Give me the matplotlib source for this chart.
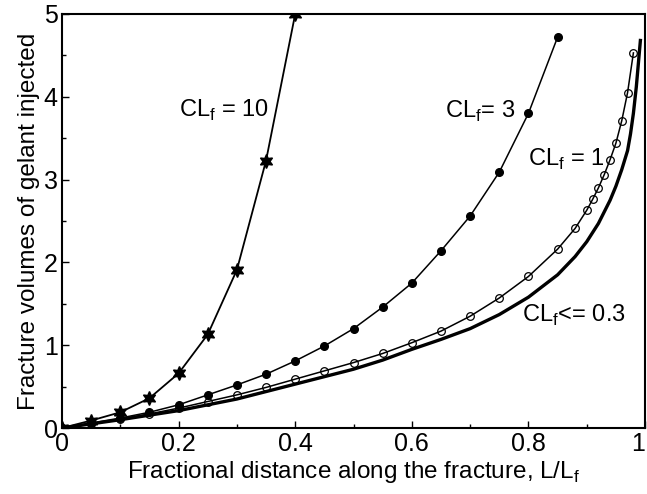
import matplotlib
matplotlib.use("Agg")
import matplotlib.pyplot as plt
from matplotlib.ticker import MultipleLocator, FixedFormatter, FixedLocator

plt.rcParams['font.family'] = ['Liberation Sans', 'DejaVu Sans']
plt.rcParams['mathtext.fontset'] = 'custom'
plt.rcParams['mathtext.rm'] = 'Liberation Sans'

# CLf = 10 (stars)
x10 = [0, 0.05, 0.1, 0.15, 0.2, 0.25, 0.3, 0.35, 0.4]
y10 = [0, 0.09, 0.19, 0.36, 0.66, 1.13, 1.91, 3.23, 5.0]

# CLf = 3 (filled circles)
x3 = [0, 0.05, 0.1, 0.15, 0.2, 0.25, 0.3, 0.35, 0.4, 0.45, 0.5, 0.55,
      0.6, 0.65, 0.7, 0.75, 0.8, 0.85]
y3 = [0, 0.06, 0.12, 0.19, 0.28, 0.40, 0.52, 0.65, 0.81, 0.99, 1.20, 1.46,
      1.75, 2.14, 2.56, 3.09, 3.80, 4.72]

# CLf = 1 (open circles)
x1 = [0, 0.05, 0.1, 0.15, 0.2, 0.25, 0.3, 0.35, 0.4, 0.45, 0.5, 0.55, 0.6,
      0.65, 0.7, 0.75, 0.8, 0.85, 0.88, 0.9, 0.91, 0.92, 0.93, 0.94, 0.95,
      0.96, 0.97, 0.98]
y1 = [0, 0.05, 0.11, 0.17, 0.24, 0.32, 0.40, 0.49, 0.59, 0.69, 0.79, 0.90,
      1.03, 1.17, 1.35, 1.57, 1.83, 2.16, 2.41, 2.63, 2.76, 2.90, 3.06,
      3.24, 3.44, 3.71, 4.05, 4.53]

x03 = [0, 0.05, 0.1, 0.15, 0.2, 0.25, 0.3, 0.35, 0.4, 0.45, 0.5, 0.55, 0.6,
       0.65, 0.7, 0.75, 0.8, 0.85, 0.88, 0.9, 0.92, 0.94, 0.95, 0.96, 0.97,
       0.975, 0.98, 0.985, 0.992]
y03 = [0, 0.05, 0.10, 0.155, 0.21, 0.28, 0.35, 0.44, 0.53, 0.62, 0.71, 0.82,
       0.95, 1.07, 1.20, 1.37, 1.58, 1.85, 2.07, 2.25, 2.47, 2.75, 2.92,
       3.12, 3.35, 3.55, 3.80, 4.12, 4.68]

fig = plt.figure(figsize=(6.47, 4.94), dpi=100)
ax = fig.add_axes([0.0958, 0.1336, 0.9012, 0.8381])

ax.plot(x03, y03, color='black', lw=2.4)
ax.plot(x1, y1, color='black', lw=1.1, marker='o', ms=5.5, mfc='none', mew=0.9)
ax.plot(x3, y3, color='black', lw=1.1, marker='o', ms=5.5, mfc='black')
ax.plot(x10, y10, color='black', lw=1.3, marker=(6, 1, 0), ms=10, mfc='black')

ax.set_xlim(0, 1)
ax.set_ylim(0, 5)
ax.xaxis.set_major_locator(FixedLocator([0, 0.2, 0.4, 0.6, 0.8, 1.0]))
ax.xaxis.set_major_formatter(FixedFormatter(['0', '0.2', '0.4', '0.6', '0.8', '1']))
ax.xaxis.set_minor_locator(MultipleLocator(0.1))
ax.yaxis.set_major_locator(MultipleLocator(1))
ax.yaxis.set_minor_locator(MultipleLocator(0.5))
ax.tick_params(which='both', direction='in', labelsize=18, width=1)
ax.tick_params(which='major', length=5, pad=3)
ax.tick_params(which='minor', length=3)
for s in ax.spines.values():
    s.set_linewidth(1.5)
# keep the last x label inside the picture
ax.get_xticklabels()[-1].set_horizontalalignment('right')

ax.set_xlabel(r'Fractional distance along the fracture, L/L$_\mathrm{f}$', fontsize=17.5, labelpad=2)
ax.set_ylabel('Fracture volumes of gelant injected', fontsize=17.5, labelpad=3)

fs = 17
ax.text(0.20, 3.84, r'CL$_\mathrm{f}$ = 10', fontsize=fs, va='center', ha='left')
ax.text(0.657, 3.82, r'CL$_\mathrm{f}$= 3', fontsize=fs, va='center', ha='left')
ax.text(0.80, 3.24, r'CL$_\mathrm{f}$ = 1', fontsize=fs, va='center', ha='left')
ax.text(0.789, 1.36, r'CL$_\mathrm{f}$<= 0.3', fontsize=fs, va='center', ha='left')

fig.savefig('out.png', dpi=100)
